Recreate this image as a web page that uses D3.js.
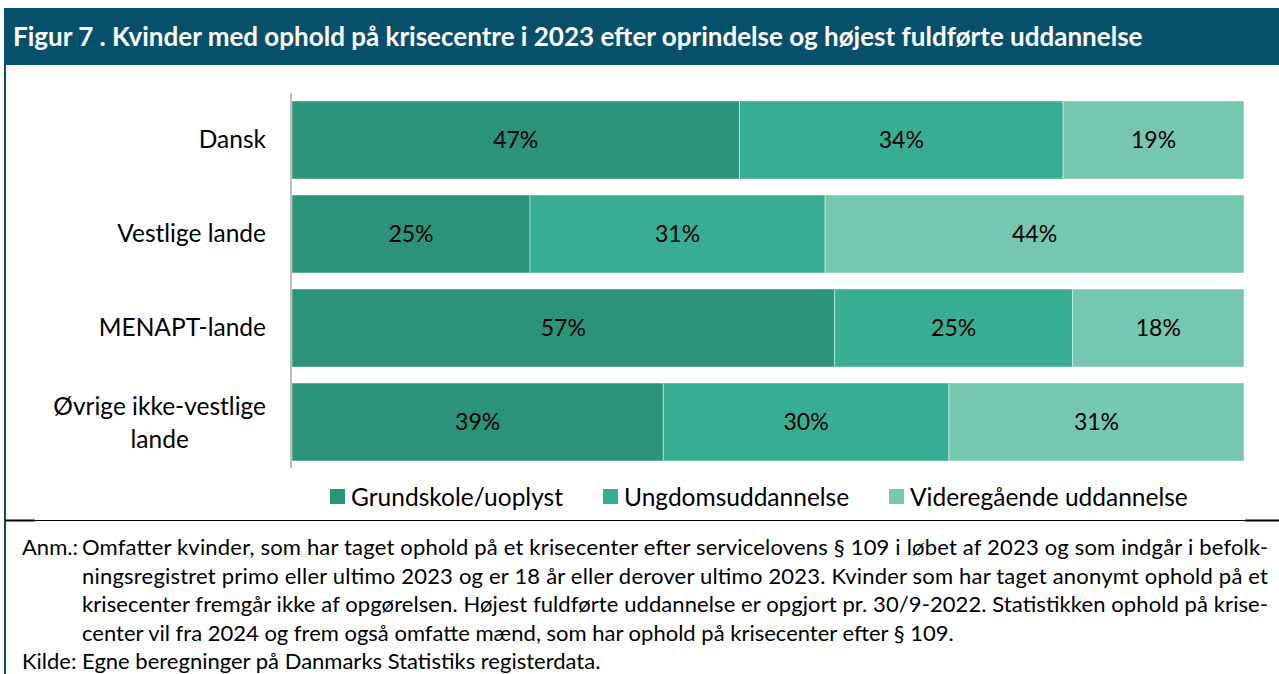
<!DOCTYPE html>
<html>
<head>
<meta charset="utf-8">
<script src="https://cdn.jsdelivr.net/npm/d3@7"></script>
<style>
  body { margin: 0; background: #fff; }
  text { font-family: Lato, "Noto Sans", sans-serif; }
</style>
</head>
<body>
<div id="chart"></div>
<script>
// Data
var categories = ["Dansk", "Vestlige lande", "MENAPT-lande", "Øvrige ikke-vestlige lande"];
var seriesNames = ["Grundskole/uoplyst", "Ungdomsuddannelse", "Videregående uddannelse"];
var grundskole = [47, 25, 57, 39];
var ungdom = [34, 31, 25, 30];
var videregaende = [19, 44, 18, 31];
var colors = ["#2b937a", "#37ae93", "#75c7af"];

var titleText = "Figur 7 . Kvinder med ophold på krisecentre i 2023 efter oprindelse og højest fuldførte uddannelse";
var noteLines = [
  "Omfatter kvinder, som har taget ophold på et krisecenter efter servicelovens § 109 i løbet af 2023 og som indgår i befolk-",
  "ningsregistret primo eller ultimo 2023 og er 18 år eller derover ultimo 2023. Kvinder som har taget anonymt ophold på et",
  "krisecenter fremgår ikke af opgørelsen. Højest fuldførte uddannelse er opgjort pr. 30/9-2022. Statistikken ophold på krise-",
  "center vil fra 2024 og frem også omfatte mænd, som har ophold på krisecenter efter § 109."
];
var sourceText = "Egne beregninger på Danmarks Statistiks registerdata.";

var svgWidth = 1279;
var svgHeight = 674;
var headerColor = "#07506b";

var svg = d3.select("#chart")
  .append("svg")
  .attr("width", svgWidth)
  .attr("height", svgHeight);

// header bar
svg.append("rect")
  .attr("x", 4).attr("y", 8)
  .attr("width", svgWidth - 4).attr("height", 57)
  .attr("fill", headerColor);

svg.append("text")
  .attr("x", 13).attr("y", 46)
  .attr("fill", "#fff")
  .attr("font-weight", "bold")
  .attr("font-size", 26)
  .text(titleText);

// left frame line
svg.append("line")
  .attr("x1", 5).attr("x2", 5)
  .attr("y1", 65).attr("y2", svgHeight)
  .attr("stroke", headerColor).attr("stroke-width", 2);

// stack the data
var rows = categories.map(function(c, i) {
  return { cat: c, s0: grundskole[i], s1: ungdom[i], s2: videregaende[i] };
});
var stack = d3.stack().keys(["s0", "s1", "s2"]);
var stacked = stack(rows);

// scales
var x = d3.scaleLinear().domain([0, 100]).range([292, 1244]);
var y = d3.scaleBand()
  .domain(categories)
  .range([93, 469])
  .paddingInner(0.17)
  .paddingOuter(0.085);

var layers = svg.selectAll("g.layer")
  .data(stacked)
  .enter()
  .append("g")
  .attr("class", "layer")
  .attr("fill", (d, i) => colors[i]);

layers.selectAll("rect")
  .data(d => d)
  .enter()
  .append("rect")
  .attr("x", d => x(d[0]))
  .attr("y", d => y(d.data.cat))
  .attr("width", d => x(d[1]) - x(d[0]))
  .attr("height", y.bandwidth())
  .attr("stroke", "rgba(255,255,255,0.45)")
  .attr("stroke-width", 1);

layers.selectAll("text")
  .data(d => d)
  .enter()
  .append("text")
  .attr("x", d => (x(d[0]) + x(d[1])) / 2)
  .attr("y", d => y(d.data.cat) + y.bandwidth() / 2)
  .attr("dy", "0.36em")
  .attr("text-anchor", "middle")
  .attr("font-size", 23)
  .attr("fill", "#000")
  .text(d => (d[1] - d[0]) + "%");

// category axis
var yAxis = d3.axisLeft(y).tickSize(0).tickPadding(25);
var yG = svg.append("g")
  .attr("transform", "translate(291,0)")
  .call(yAxis);
yG.select(".domain")
  .attr("d", "M0,93V468")
  .attr("stroke", "#a6a6a6")
  .attr("stroke-width", 1.5);
yG.selectAll(".tick text")
  .attr("font-size", 24.5)
  .attr("fill", "#000")
  .style("font-family", "Lato, sans-serif")
  .each(function(d) {
    if (d === "Øvrige ikke-vestlige lande") {
      var t = d3.select(this);
      t.text(null);
      var first = t.append("tspan").attr("x", -25).attr("dy", "-0.3em").text("Øvrige ikke-vestlige");
      var w = first.node().getComputedTextLength();
      t.append("tspan").attr("x", -25 - w / 2).attr("dy", "1.35em").attr("text-anchor", "middle").text("lande");
    }
  });

// legend
var legendX = [330, 603, 889];
var legend = svg.selectAll("g.legend")
  .data(seriesNames)
  .enter()
  .append("g")
  .attr("class", "legend")
  .attr("transform", (d, i) => `translate(${legendX[i]}, 489)`);
legend.append("rect")
  .attr("width", 15).attr("height", 15)
  .attr("fill", (d, i) => colors[i]);
legend.append("text")
  .attr("x", 21).attr("y", 8)
  .attr("dy", "0.36em")
  .attr("font-size", 24.5)
  .attr("fill", "#000")
  .text(d => d);

// separator line
svg.append("line")
  .attr("x1", 5).attr("x2", svgWidth)
  .attr("y1", 520.5).attr("y2", 520.5)
  .attr("stroke", "#000").attr("stroke-width", 1);
svg.append("line")
  .attr("x1", 5).attr("x2", 35)
  .attr("y1", 520.5).attr("y2", 520.5)
  .attr("stroke", "#000").attr("stroke-width", 2);
svg.append("line")
  .attr("x1", 1245).attr("x2", svgWidth)
  .attr("y1", 520.5).attr("y2", 520.5)
  .attr("stroke", "#000").attr("stroke-width", 2);

// notes
var notes = svg.append("g").attr("font-size", 22).attr("fill", "#000");
notes.append("text").attr("x", 22).attr("y", 555).text("Anm.:");
notes.selectAll("text.line")
  .data(noteLines)
  .enter()
  .append("text")
  .attr("class", "line")
  .attr("x", 82)
  .attr("y", (d, i) => 555 + i * 28.5)
  .attr("textLength", (d, i) => i < 3 ? 1186 : null)
  .attr("lengthAdjust", "spacing")
  .text(d => d);
notes.append("text").attr("x", 22).attr("y", 669).text("Kilde:");
notes.append("text").attr("x", 82).attr("y", 669).text(sourceText);
</script>
</body>
</html>
